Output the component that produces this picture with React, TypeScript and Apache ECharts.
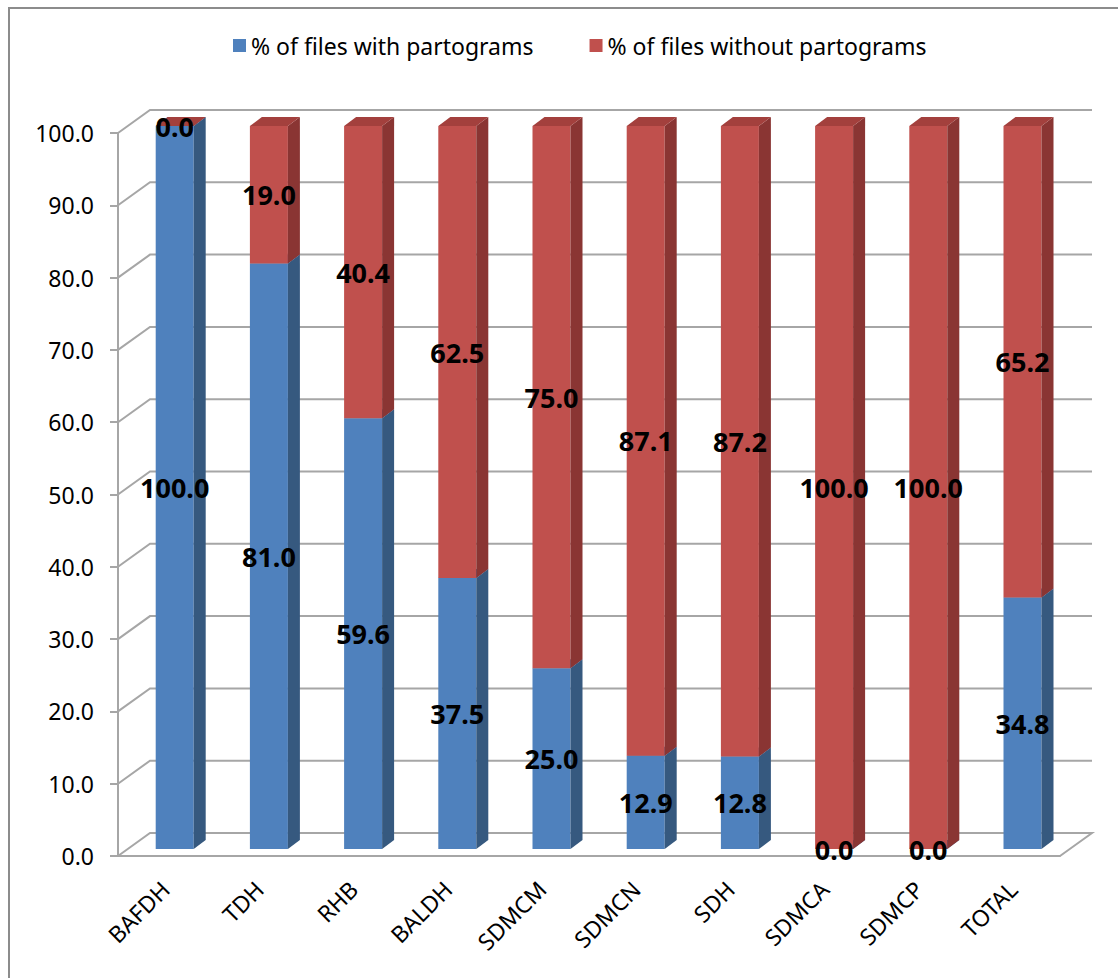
import React, { useEffect, useRef } from "react";
import * as echarts from "echarts";

// Facilities and the share of delivery files with / without a partogram
const categories = ["BAFDH", "TDH", "RHB", "BALDH", "SDMCM", "SDMCN", "SDH", "SDMCA", "SDMCP", "TOTAL"];
const withPartogram = [100.0, 81.0, 59.6, 37.5, 25.0, 12.9, 12.8, 0.0, 0.0, 34.8];
const withoutPartogram = [0.0, 19.0, 40.4, 62.5, 75.0, 87.1, 87.2, 100.0, 100.0, 65.2];
const yTicks = [0, 10, 20, 30, 40, 50, 60, 70, 80, 90, 100];

const SERIES_WITH = "% of files with partograms";
const SERIES_WITHOUT = "% of files without partograms";

// Oblique projection of the 3D box: full depth of the wall and floor
const DEPTH_X = 32;
const DEPTH_Y = -23;
// Bars sit part way into the depth
const BAR_FRONT = 0.3;
const BAR_DEPTH_X = 12;
const BAR_DEPTH_Y = -9;
const BAR_HALF = 19;

const FONT = '"Noto Sans", sans-serif';

const BLUE = { front: "#4f81bd", side: "#36597f", top: "#4470a6" };
const RED = { front: "#c0504d", side: "#8a3533", top: "#a3403d" };

type Colors = { front: string; side: string; top: string };

function barRenderer(base: number[], values: number[], colors: Colors) {
  return (params: any, api: any) => {
    const i = params.dataIndex;
    const v0 = base[i];
    const v1 = base[i] + values[i];
    const p0 = api.coord([i, v0]);
    const p1 = api.coord([i, v1]);
    const cx = p0[0] + DEPTH_X * BAR_FRONT;
    const y0 = p0[1] + DEPTH_Y * BAR_FRONT;
    const y1 = p1[1] + DEPTH_Y * BAR_FRONT;
    const xl = cx - BAR_HALF;
    const xr = cx + BAR_HALF;
    const dx = BAR_DEPTH_X;
    const dy = BAR_DEPTH_Y;
    return {
      type: "group",
      children: [
        {
          type: "rect",
          shape: { x: xl, y: y1, width: xr - xl, height: y0 - y1 },
          style: { fill: colors.front },
        },
        {
          type: "polygon",
          shape: { points: [[xr, y0], [xr + dx, y0 + dy], [xr + dx, y1 + dy], [xr, y1]] },
          style: { fill: colors.side },
        },
        {
          type: "polygon",
          shape: { points: [[xl, y1], [xl + dx, y1 + dy], [xr + dx, y1 + dy], [xr, y1]] },
          style: { fill: colors.top },
        },
      ],
    };
  };
}

function labelRenderer(base: number[], values: number[]) {
  return (params: any, api: any) => {
    const i = params.dataIndex;
    const mid = base[i] + values[i] / 2;
    const p = api.coord([i, mid]);
    return {
      type: "text",
      x: p[0] + DEPTH_X * BAR_FRONT,
      y: p[1] + DEPTH_Y * BAR_FRONT,
      style: {
        text: values[i].toFixed(1),
        fill: "#000",
        font: `bold 27px ${FONT}`,
        align: "center",
        verticalAlign: "middle",
      },
    };
  };
}

function gridRenderer(params: any, api: any) {
  const v = api.value(1);
  const cs = params.coordSys;
  const x0 = cs.x;
  const x1 = cs.x + cs.width;
  const y = api.coord([0, v])[1];
  const pts: number[][] = [
    [x0, y],
    [x0 + DEPTH_X, y + DEPTH_Y],
    [x1 + DEPTH_X, y + DEPTH_Y],
  ];
  if (v === 0) pts.push([x1, y]);
  return {
    type: "polyline",
    shape: { points: pts },
    style: { stroke: "#a6a6a6", lineWidth: 2, fill: null },
  };
}

export default function App() {
  const ref = useRef<HTMLDivElement>(null);

  useEffect(() => {
    if (!ref.current) return;
    const chart = echarts.init(ref.current, null, { renderer: "svg" });
    const zeros = categories.map(() => 0);

    chart.setOption({
      animation: false,
      backgroundColor: "#fff",
      graphic: [
        {
          type: "polyline",
          shape: { points: [[9, 1000], [9, 8], [1118, 8]] },
          style: { stroke: "#8c8c8c", lineWidth: 2, fill: null },
          z: 0,
        },
      ],
      legend: {
        data: [SERIES_WITH, SERIES_WITHOUT],
        top: 29,
        left: 228,
        icon: "rect",
        itemWidth: 13,
        itemHeight: 13,
        itemGap: 56,
        textStyle: { fontFamily: FONT, fontSize: 23, color: "#000" },
      },
      grid: { left: 118, right: 58, top: 133, bottom: 122 },
      xAxis: {
        type: "category",
        data: categories,
        axisLine: { lineStyle: { color: "#a6a6a6", width: 2 } },
        axisTick: { length: 8, lineStyle: { color: "#a6a6a6", width: 2 } },
        axisLabel: {
          rotate: 45,
          margin: 29,
          color: "#000",
          fontSize: 23,
          fontFamily: FONT,
        },
        splitLine: { show: false },
      },
      yAxis: {
        type: "value",
        min: 0,
        max: 100,
        interval: 10,
        axisLine: { show: true, lineStyle: { color: "#a6a6a6", width: 2 } },
        axisTick: { show: true, length: 8, lineStyle: { color: "#a6a6a6", width: 2 } },
        axisLabel: {
          margin: 24,
          color: "#000",
          fontSize: 23,
          fontFamily: FONT,
          formatter: (v: number) => v.toFixed(1),
        },
        splitLine: { show: false },
      },
      series: [
        {
          type: "custom",
          name: "grid",
          renderItem: gridRenderer,
          data: yTicks.map((v) => [0, v]),
          encode: { x: 0, y: 1 },
          silent: true,
          z: 1,
        },
        {
          type: "custom",
          name: SERIES_WITH,
          renderItem: barRenderer(zeros, withPartogram, BLUE),
          data: withPartogram.map((v, i) => [i, v]),
          encode: { x: 0, y: 1 },
          itemStyle: { color: BLUE.front },
          z: 2,
        },
        {
          type: "custom",
          name: SERIES_WITHOUT,
          renderItem: barRenderer(withPartogram, withoutPartogram, RED),
          data: withoutPartogram.map((v, i) => [i, withPartogram[i] + v]),
          encode: { x: 0, y: 1 },
          itemStyle: { color: RED.front },
          z: 3,
        },
        {
          type: "custom",
          name: "labels-with",
          renderItem: labelRenderer(zeros, withPartogram),
          data: withPartogram.map((v, i) => [i, v]),
          encode: { x: 0, y: 1 },
          silent: true,
          z: 10,
        },
        {
          type: "custom",
          name: "labels-without",
          renderItem: labelRenderer(withPartogram, withoutPartogram),
          data: withoutPartogram.map((v, i) => [i, withPartogram[i] + v]),
          encode: { x: 0, y: 1 },
          silent: true,
          z: 10,
        },
      ],
    });

    return () => chart.dispose();
  }, []);

  return (
    <div
      ref={ref}
      style={{ position: "absolute", left: 0, top: 0, width: 1118, height: 978 }}
    />
  );
}
